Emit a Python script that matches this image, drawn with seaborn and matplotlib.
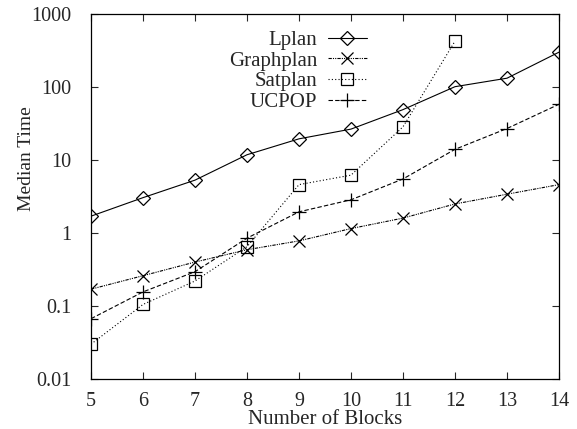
import matplotlib
matplotlib.use("Agg")
import matplotlib.pyplot as plt
import seaborn as sns
import pandas as pd
from matplotlib.ticker import FixedLocator, FixedFormatter, NullLocator

blocks = [5, 6, 7, 8, 9, 10, 11, 12, 13, 14]
lplan = [1.7, 3.05, 5.3, 11.8, 19.5, 26.5, 49, 101, 132, 300]
graphplan = [0.17, 0.26, 0.40, 0.59, 0.78, 1.15, 1.6, 2.5, 3.4, 4.6]
satplan_blocks = [5, 6, 7, 8, 9, 10, 11, 12]
satplan = [0.03, 0.105, 0.22, 0.65, 4.6, 6.2, 28.5, 425]
ucpop = [0.067, 0.156, 0.295, 0.85, 1.95, 2.85, 5.5, 14, 27, 58]

y_ticks = [0.01, 0.1, 1, 10, 100, 1000]
y_labels = ["0.01", "0.1", "1", "10", "100", "1000"]

sns.set_style("ticks")
plt.rcParams["font.family"] = ["Liberation Serif", "DejaVu Serif"]

W, H = 577, 429
fig = plt.figure(figsize=(W / 100, H / 100), dpi=100)
# axes box in pixels: left 91, right 559, top 14, bottom 379
ax = fig.add_axes([91 / W, 1 - 379 / H, (559 - 91) / W, (379 - 14) / H])

series = [
    ("Lplan", blocks, lplan, "D", "-", 7),
    ("Graphplan", blocks, graphplan, "x", (0, (3, 1, 1, 1, 1, 1)), 8),
    ("Satplan", satplan_blocks, satplan, "s", (0, (1, 2)), 8),
    ("UCPOP", blocks, ucpop, "+", (0, (4, 2)), 10),
]

for name, xs, ys, mk, ls, ms in series:
    df = pd.DataFrame({"x": xs, "y": ys})
    filled = mk in ("D", "s")
    sns.lineplot(data=df, x="x", y="y", ax=ax, label=name, color="black",
                 linewidth=0.8, linestyle=ls, marker=mk, markersize=ms,
                 markerfacecolor="none" if filled else "black",
                 markeredgecolor="black", markeredgewidth=0.9)

ax.set_yscale("log")
ax.set_xlim(5, 14)
ax.set_ylim(0.01, 1000)
ax.set_xticks(blocks)
ax.yaxis.set_major_locator(FixedLocator(y_ticks))
ax.yaxis.set_major_formatter(FixedFormatter(y_labels))
ax.yaxis.set_minor_locator(NullLocator())
ax.tick_params(direction="in", top=True, right=True, length=5, width=0.8,
               labelsize=14.5)
ax.tick_params(axis="x", pad=9)
ax.tick_params(axis="y", pad=14)
for s in ax.spines.values():
    s.set_linewidth(0.9)
    s.set_color("black")

ax.set_xlabel("Number of Blocks", fontsize=15, labelpad=0)
ax.set_ylabel("Median Time", fontsize=14)
ax.yaxis.set_label_coords(-0.12, 0.603)

ax.legend(loc="upper right", bbox_to_anchor=(0.59, 0.955), frameon=False,
          markerfirst=False, fontsize=15, handlelength=1.9,
          labelspacing=0.05, handletextpad=0.5, borderaxespad=0,
          borderpad=0)

fig.savefig("out.png", dpi=100)
